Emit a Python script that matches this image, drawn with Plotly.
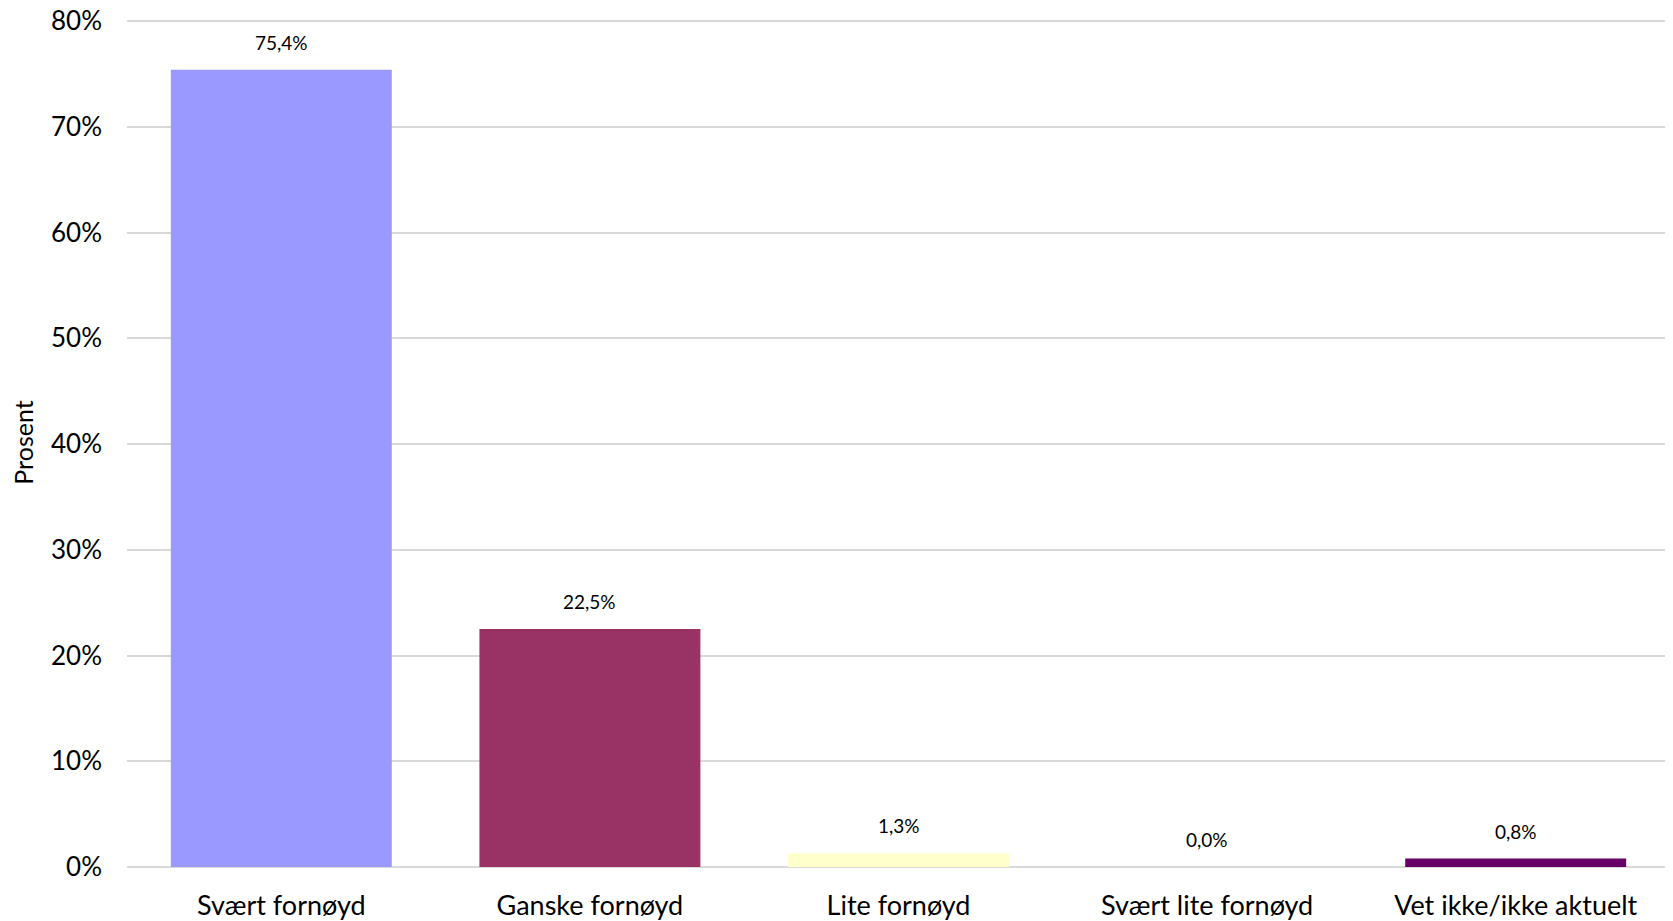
import plotly.graph_objects as go

categories = ["Svært fornøyd", "Ganske fornøyd", "Lite fornøyd", "Svært lite fornøyd", "Vet ikke/ikke aktuelt"]
values = [75.4, 22.5, 1.3, 0.0, 0.8]
bar_colors = ["#9999FF", "#993366", "#FFFFCC", "#CCFFFF", "#660066"]
y_ticks = [0, 10, 20, 30, 40, 50, 60, 70, 80]

FONT = "Lato, 'Open Sans', sans-serif"

fig = go.Figure()
fig.add_trace(go.Bar(
    x=categories, y=values,
    marker=dict(color=bar_colors, line=dict(width=0)),
    hoverinfo="skip",
))

for c, v in zip(categories, values):
    fig.add_annotation(
        x=c, y=v, text=f"{v:.1f}%".replace(".", ","),
        showarrow=False, yanchor="bottom", yshift=14,
        font=dict(family=FONT, size=19, color="#000000"),
    )

fig.update_layout(
    width=1665, height=913,
    margin=dict(l=119, r=3, t=10, b=54, autoexpand=False),
    paper_bgcolor="white", plot_bgcolor="white",
    bargap=0.284,
    showlegend=False,
    font=dict(family=FONT, color="#000000"),
)
fig.update_xaxes(
    automargin=False,
    showgrid=False, showline=False, zeroline=False,
    tickfont=dict(family=FONT, size=27, color="#000000"),
    ticks="",
    ticklabelstandoff=20,
    ticklabeloverflow="allow",
)
fig.update_yaxes(
    automargin=False,
    range=[0, 80.3], tickvals=y_ticks,
    ticktext=[f"{t}%" for t in y_ticks],
    showgrid=True, gridcolor="#D9D9D9", gridwidth=2,
    zeroline=True, zerolinecolor="#D9D9D9", zerolinewidth=2,
    showline=False, ticks="",
    tickfont=dict(family=FONT, size=26, color="#000000"),
    ticklabelstandoff=24,
    ticklabeloverflow="allow",
    title=dict(text="Prosent", font=dict(family=FONT, size=25, color="#000000"), standoff=10),
)

fig.write_html("out.html")
